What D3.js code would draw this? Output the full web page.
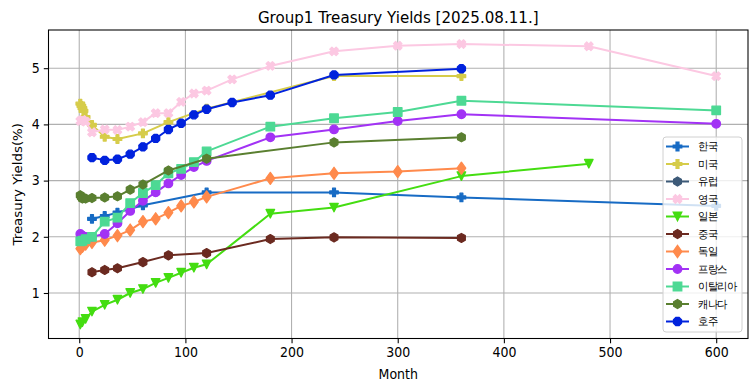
<!DOCTYPE html>
<html><head><meta charset="utf-8">
<script src="https://cdn.jsdelivr.net/npm/d3@7"></script>
<style>body{margin:0;background:#fff} svg{display:block} text{font-family:"DejaVu Sans",sans-serif;fill:#000}</style>
</head><body><svg id="c" width="755" height="391"></svg>
<script>
// ---- data ----
const countries = ["한국","미국","유럽","영국","일본","중국","독일","프랑스","이탈리아","캐나다","호주"];
const colors    = ["#176bc4","#d6cc4a","#3d5a78","#fcc8e2","#44dd11","#6b2a20","#ff8a4c","#a232f5","#4dd994","#5a7f30","#0022dd"];
const markers   = ["P","P","h","X","v","h","d","o","s","h","8"];

const monthsKR = [12,24,36,60,120,240,360,600];
const yieldsKR = [2.32,2.37,2.43,2.56,2.79,2.79,2.70,2.55];
const monthsUS = [1,2,3,4,6,12,24,36,60,84,120,240,360];
const yieldsUS = [4.37,4.33,4.29,4.24,4.13,3.99,3.78,3.74,3.84,4.04,4.28,4.86,4.86];
const monthsEU = [];
const yieldsEU = [];
const monthsUK = [1,3,6,12,24,36,48,60,72,84,96,108,120,144,180,240,300,360,480,600];
const yieldsUK = [4.06,4.08,4.05,3.86,3.91,3.90,3.96,4.04,4.20,4.20,4.40,4.55,4.60,4.80,5.04,5.30,5.40,5.43,5.39,4.86];
const monthsJP = [1,3,6,12,24,36,48,60,72,84,96,108,120,180,240,360,480];
const yieldsJP = [0.44,0.48,0.54,0.67,0.79,0.88,1.00,1.07,1.18,1.27,1.36,1.45,1.51,2.41,2.52,3.08,3.30];
const monthsCN = [12,24,36,60,84,120,180,240,360];
const yieldsCN = [1.37,1.41,1.44,1.55,1.67,1.71,1.96,1.99,1.98];
const monthsDE = [1,3,6,12,24,36,48,60,72,84,96,108,120,180,240,300,360];
const yieldsDE = [1.79,1.83,1.87,1.90,1.94,2.02,2.12,2.27,2.32,2.43,2.55,2.62,2.71,3.04,3.13,3.16,3.22];
const monthsFR = [1,3,6,12,24,36,48,60,72,84,96,108,120,180,240,300,360,600];
const yieldsFR = [2.05,2.02,2.00,2.00,2.05,2.24,2.46,2.64,2.79,2.95,3.10,3.24,3.35,3.77,3.91,4.06,4.18,4.01];
const monthsIT = [1,3,6,12,24,36,48,60,72,84,96,108,120,180,240,300,360,600];
const yieldsIT = [1.92,1.93,1.96,2.00,2.27,2.34,2.60,2.78,2.92,3.13,3.21,3.33,3.52,3.96,4.11,4.22,4.42,4.25];
const monthsCA = [1,2,3,6,12,24,36,48,60,84,120,240,360];
const yieldsCA = [2.74,2.71,2.68,2.68,2.69,2.70,2.72,2.84,2.93,3.18,3.39,3.68,3.77];
const monthsAU = [12,24,36,48,60,72,84,96,108,120,144,180,240,360];
const yieldsAU = [3.41,3.36,3.38,3.47,3.60,3.75,3.91,4.02,4.17,4.27,4.39,4.52,4.88,4.99];

const xTicks = [0,100,200,300,400,500,600];
const xTickLabels = ["0","100","200","300","400","500","600"];
const yTicks = [1,2,3,4,5];
const yTickLabels = ["1","2","3","4","5"];
const titleText = "Group1 Treasury Yields [2025.08.11.]";
const xLabelText = "Month";
const yLabelText = "Treasury Yields(%)";

const allMonths = [monthsKR,monthsUS,monthsEU,monthsUK,monthsJP,monthsCN,monthsDE,monthsFR,monthsIT,monthsCA,monthsAU];
const allYields = [yieldsKR,yieldsUS,yieldsEU,yieldsUK,yieldsJP,yieldsCN,yieldsDE,yieldsFR,yieldsIT,yieldsCA,yieldsAU];
const series = countries.map((c,i)=>({name:c,color:colors[i],marker:markers[i],
  pts: allMonths[i].map((m,j)=>({m:m,v:allYields[i][j]}))}));

// ---- layout ----
const SX = 0.944; // horizontal text squeeze
const L=48.5, R=748, T=30, B=338.5;
const svg = d3.select("#c");
const flatM = series.flatMap(s=>s.pts.map(p=>p.m));
const flatV = series.flatMap(s=>s.pts.map(p=>p.v));
const [mx0,mx1] = d3.extent(flatM), [vy0,vy1] = d3.extent(flatV);
const x = d3.scaleLinear().domain([mx0-0.05*(mx1-mx0), mx1+0.05*(mx1-mx0)]).range([L,R]);
const y = d3.scaleLinear().domain([vy0-0.05*(vy1-vy0), vy1+0.05*(vy1-vy0)]).range([B,T]);

// grid
const grid = svg.append("g");
grid.selectAll("line.gx").data(xTicks).join("line")
  .attr("x1",d=>x(d)).attr("x2",d=>x(d)).attr("y1",T).attr("y2",B)
  .attr("stroke","#b0b0b0").attr("stroke-width",1.07);
grid.selectAll("line.gy").data(yTicks).join("line")
  .attr("y1",d=>y(d)).attr("y2",d=>y(d)).attr("x1",L).attr("x2",R)
  .attr("stroke","#b0b0b0").attr("stroke-width",1.07);

// marker shapes (px)
const MS = 8.5;
function markerPath(type, s){
  const h = s/2;
  const poly = pts => "M"+pts.map(p=>p[0].toFixed(2)+","+p[1].toFixed(2)).join("L")+"Z";
  const reg = (n, r, rot) => d3.range(n).map(k=>{const a=rot+2*Math.PI*k/n; return [r*Math.sin(a), -r*Math.cos(a)];});
  const plus = [[-1,-3],[1,-3],[1,-1],[3,-1],[3,1],[1,1],[1,3],[-1,3],[-1,1],[-3,1],[-3,-1],[-1,-1]].map(p=>[p[0]*s/6,p[1]*s/6]);
  switch(type){
    case "o": return d3.symbol(d3.symbolCircle, Math.PI*h*h)();
    case "s": return poly([[-h,-h],[h,-h],[h,h],[-h,h]]);
    case "h": return poly(reg(6,h*1.05,0));
    case "8": return poly(reg(8,h*1.02,Math.PI/8));
    case "v": return poly([[0,h],[-h,-h],[h,-h]]);
    case "d": { const a=0.7071*s; return poly([[0,-a],[0.72*a,0],[0,a],[-0.72*a,0]]); }
    case "P": return poly(plus);
    case "X": { const c=Math.SQRT1_2; return poly(plus.map(p=>[(p[0]-p[1])*c*1.05,(p[0]+p[1])*c*1.05])); }
  }
}

// series
const line = d3.line().x(d=>x(d.m)).y(d=>y(d.v));
const plot = svg.append("g");
series.forEach(s=>{
  if(!s.pts.length) return;
  const g = plot.append("g");
  g.append("path").attr("d",line(s.pts)).attr("fill","none").attr("stroke",s.color)
    .attr("stroke-width",2).attr("stroke-linejoin","round").attr("stroke-linecap","square");
  g.selectAll("path.m").data(s.pts).join("path").attr("class","m")
    .attr("d",markerPath(s.marker,MS))
    .attr("transform",d=>`translate(${x(d.m)},${y(d.v)})`)
    .attr("fill",s.color).attr("stroke",s.color).attr("stroke-width",1.33).attr("stroke-linejoin","round");
});

// frame
svg.append("rect").attr("x",L).attr("y",T).attr("width",R-L).attr("height",B-T)
  .attr("fill","none").attr("stroke","#000").attr("stroke-width",1.07);

// axes
const xa = svg.append("g").attr("transform",`translate(0,${B})`)
  .call(d3.axisBottom(x).tickValues(xTicks).tickFormat((d,i)=>xTickLabels[i]).tickSize(4.7).tickPadding(4.7));
const ya = svg.append("g").attr("transform",`translate(${L},0)`)
  .call(d3.axisLeft(y).tickValues(yTicks).tickFormat((d,i)=>yTickLabels[i]).tickSize(4.7).tickPadding(4.7));
[xa,ya].forEach(a=>{
  a.select(".domain").remove();
  a.selectAll(".tick line").attr("stroke","#000").attr("stroke-width",1.07);
  a.selectAll(".tick text").attr("font-size","13.33px").attr("font-family","DejaVu Sans").attr("fill","#000")
    .attr("transform",`scale(${SX},1)`);
});

// title & labels
const cx = (L+R)/2;
svg.append("text").attr("transform",`translate(${cx},22.5) scale(${SX},1)`)
  .attr("text-anchor","middle").attr("font-size","16px").text(titleText);
svg.append("text").attr("transform",`translate(${cx},379) scale(${SX},1)`)
  .attr("text-anchor","middle").attr("font-size","13.33px").text(xLabelText);
svg.append("text").attr("transform",`translate(21.5,${(T+B)/2}) scale(${SX},1) rotate(-90)`)
  .attr("text-anchor","middle").attr("font-size","13.33px").text(yLabelText);

// legend
const lg = svg.append("g");
const LX=663, LY=137, LW=79, LH=195, rowH=17.5, row0=146.5;
lg.append("rect").attr("x",LX).attr("y",LY).attr("width",LW).attr("height",LH).attr("rx",3)
  .attr("fill","#fff").attr("fill-opacity",0.8).attr("stroke","#d0d0d0").attr("stroke-width",1);
series.forEach((s,i)=>{
  const cy = row0 + rowH*i;
  lg.append("line").attr("x1",666).attr("x2",689).attr("y1",cy).attr("y2",cy)
    .attr("stroke",s.color).attr("stroke-width",2);
  lg.append("path").attr("d",markerPath(s.marker,MS)).attr("transform",`translate(677.5,${cy})`)
    .attr("fill",s.color).attr("stroke",s.color).attr("stroke-width",1.33);
  lg.append("text").attr("transform",`translate(698,${cy}) scale(${SX},1)`).attr("dy","0.36em")
    .attr("font-family","'Noto Sans CJK KR',sans-serif").attr("font-size","10.5px").text(s.name);
});
</script></body></html>
